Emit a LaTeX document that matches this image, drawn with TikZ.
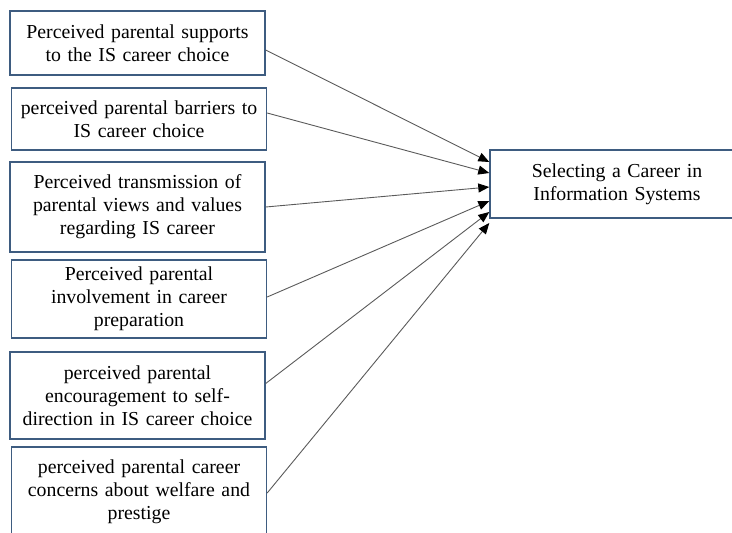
\documentclass[tikz,border=0pt]{standalone}
\usepackage{fontspec}
\setmainfont{Liberation Serif}
\usetikzlibrary{arrows.meta}

\definecolor{boxline}{RGB}{62,92,128}
\definecolor{linkgray}{RGB}{90,90,90}

\begin{document}
\begin{tikzpicture} [x=1pt,y=-1pt,
			factor/.style={draw=boxline,line width=1.4pt,minimum width=255pt,
				text width=245pt,align=center,inner sep=0pt,
				font=\fontsize{19.8}{23}\selectfont},
			link/.style={draw=linkgray,line width=0.9pt,
				-{Triangle[length=11pt,width=9pt,fill=black,color=black]}}]

		\useasboundingbox (0,0) rectangle (732,533);

		\node [factor, minimum height=64pt] (sup) at (137.5,43) {Perceived parental supports\\to the IS career choice};
		\node [factor, minimum height=62pt] (bar) at (139,119) {perceived parental barriers to\\IS career choice};
		\node [factor, minimum height=90pt] (trans) at (137.5,207) {Perceived transmission of\\parental views and values\\regarding IS career};
		\node [factor, minimum height=78pt] (inv) at (139,299) {Perceived parental\\involvement in career\\preparation};
		\node [factor, minimum height=87pt] (enc) at (137.5,395.5) {perceived parental\\encouragement to self-\\direction in IS career choice};
		\node [factor, minimum height=90pt] (conc) at (139,492) {perceived parental career\\concerns about welfare and\\prestige};

		\node [factor, minimum height=68pt, minimum width=254pt] (career) at (617,184) {Selecting a Career in\\Information Systems};

		\draw [link] ([yshift=-7pt]sup.east) -- ([yshift=22pt]career.west);
		\draw [link] ([yshift=6pt]bar.east) -- ([yshift=11pt]career.west);
		\draw [link] (trans.east) -- ([yshift=-3pt]career.west);
		\draw [link] ([yshift=2pt]inv.east) -- ([yshift=-17pt]career.west);
		\draw [link] ([yshift=12pt]enc.east) -- ([yshift=-28pt]career.west);
		\draw [link] ([yshift=-1pt]conc.east) -- ([yshift=-39pt]career.west);

		\end{tikzpicture}
\end{document}
